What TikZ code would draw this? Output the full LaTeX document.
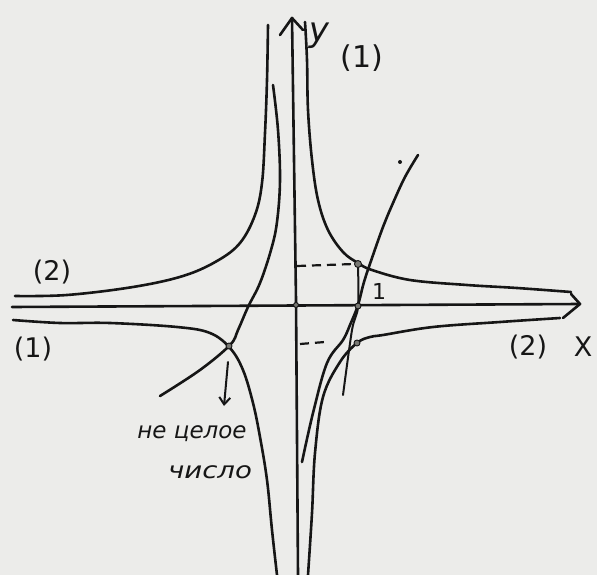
\documentclass[tikz,border=0pt]{standalone}
\usepackage{fontspec}
\setmainfont{DejaVu Sans}
\usetikzlibrary{arrows.meta}
\definecolor{paper}{RGB}{236,236,234}
\definecolor{inkc}{RGB}{22,22,22}
\definecolor{dotc}{RGB}{120,120,115}
\begin{document}
\begin{tikzpicture}[x=1pt,y=-1pt,
  ink/.style={line width=2.6pt, draw=inkc, line cap=round, line join=round},
  axisline/.style={line width=2.6pt, draw=inkc, line cap=round},
  dashln/.style={line width=2.2pt, draw=inkc, dash pattern=on 9pt off 6pt},
  ptdot/.style={circle, fill=dotc, draw=inkc, line width=0.9pt, inner sep=0pt, minimum size=7pt},
  lbl/.style={inner sep=0pt, text=inkc, font=\fontsize{27}{29}\selectfont},
  note/.style={inner sep=0pt, text=inkc, font=\itshape\fontsize{23}{26}\selectfont}]
\fill[paper] (0,0) rectangle (597,575);
\useasboundingbox (0,0) rectangle (597,575);

% axes
\coordinate (xs) at (12,307);
\coordinate (xe) at (580,304);
\coordinate (ys) at (298,575);
\coordinate (ym) at (296,300);
\coordinate (ye) at (292,18);
\draw[axisline] (xs) -- (xe);
\draw[axisline] (ys) -- (ym) -- (ye);
\coordinate (xa1) at (571,294);
\coordinate (xa2) at (563,318);
\draw[ink] (xa1) -- (xe) -- (xa2);
\coordinate (ya1) at (280,35);
\coordinate (ya2) at (303,30);
\draw[ink] (ya1) -- (ye) -- (ya2);

% curve (2), upper left
\draw[ink] plot[smooth, tension=0.6] coordinates {(15,296) (67,295) (133,287) (183,276) (217,261) (240,243) (255,215) (262,183) (265,133) (267,80) (268,25)};
% curve (2), upper right
\draw[ink] plot[smooth, tension=0.6] coordinates {(305,22) (307,60) (308,110) (312,160) (318,200) (328,230) (343,252) (358,263) (372,270) (410,280) (467,285) (517,288) (571,292)};
% curve (1), lower left
\draw[ink] plot[smooth, tension=0.6] coordinates {(13,320) (60,323) (110,323) (177,327) (210,333) (230,348) (243,370) (253,403) (260,437) (267,480) (272,530) (277,575)};
% curve (1), lower right
\draw[ink] plot[smooth, tension=0.6] coordinates {(560,318) (500,322) (433,327) (383,335) (370,337) (357,343) (340,362) (323,397) (315,453) (312,513) (308,575)};
% steep curve, left
\draw[ink] plot[smooth, tension=0.6] coordinates {(273,85) (278,130) (280,180) (277,222) (271,250) (260,283) (248,307) (238,330) (230,345) (200,370) (160,396)};
% steep curve, right
\draw[ink] plot[smooth, tension=0.6] coordinates {(418,155) (405,177) (393,203) (383,227) (372,258) (364,282) (358,305) (350,325) (343,340) (327,363) (313,413) (302,462)};
% near-vertical line through the points
\draw[ink, line width=2pt] plot[smooth, tension=0.5] coordinates {(358,263) (358,307) (352,330) (343,395)};

% points
\node[ptdot] (pu) at (358,264) {};
\node[ptdot, minimum size=6pt] (px) at (358,306) {};
\node[ptdot, minimum size=6pt] (pl) at (357,343) {};
\node[ptdot, minimum size=6pt] (pL) at (229,346) {};
\node[ptdot, minimum size=5pt] (po) at (296,305) {};
\node[circle, fill=inkc, inner sep=0pt, minimum size=4pt] (pd) at (400,162) {};

% dashed guides
\coordinate (du) at (297,266);
\coordinate (dl) at (300,344);
\draw[dashln] (du) -- (pu.west);
\draw[dashln] (dl) -- (325,342);

% arrow to note
\coordinate (ns) at (228,362);
\node[note] (n1) at (192,434) {не целое};
\node[note, xscale=1.2] (n2) at (210,472) {число};
\draw[ink, line width=2pt, -{Straight Barb[length=7pt, width=11pt]}] (ns) -- (224,406);

% labels
\node[lbl, font=\itshape\fontsize{34}{36}\selectfont] (ly) at (319,36) {y};
\node[lbl, font=\fontsize{30}{32}\selectfont] (l1t) at (362,58) {(1)};
\node[lbl] (l2l) at (52,272) {(2)};
\node[lbl] (l1l) at (33,349) {(1)};
\node[lbl] (l2r) at (528,347) {(2)};
\node[lbl] (lx) at (583,347) {X};
\node[lbl, font=\fontsize{22}{24}\selectfont] (lone) at (379,291) {1};
\end{tikzpicture}
\end{document}
